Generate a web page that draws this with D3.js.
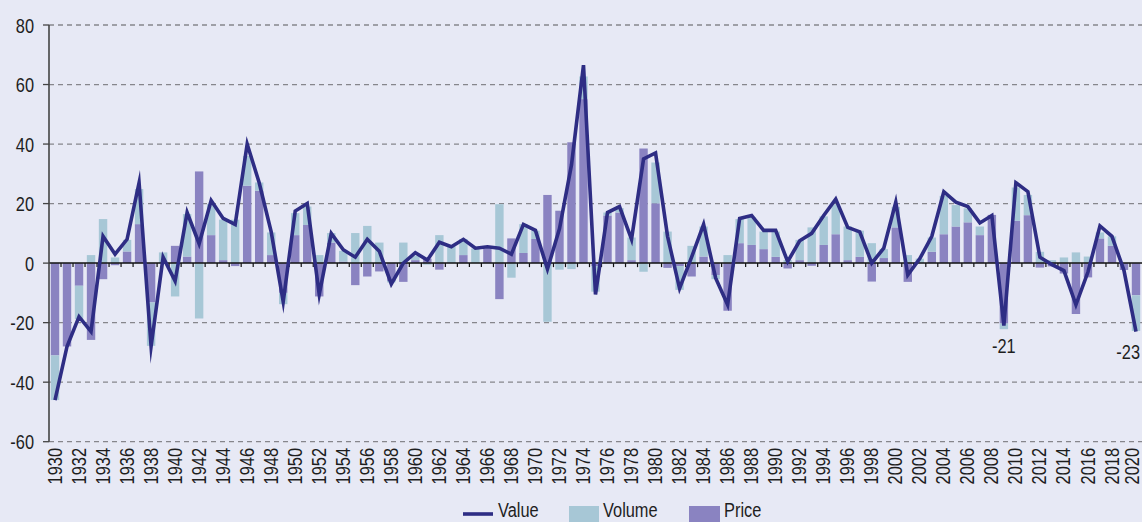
<!DOCTYPE html>
<html>
<head>
<meta charset="utf-8">
<script src="https://cdn.jsdelivr.net/npm/d3@7"></script>
<style>
  html, body { margin: 0; padding: 0; background: #e7e9f5; }
  svg { display: block; }
  text { font-family: "Liberation Sans", Arial, sans-serif; fill: #1e1e1e; }
</style>
</head>
<body>
<svg id="chart" width="1142" height="522"></svg>
<script>
const years = d3.range(1930, 2021);
const valueSeries = [
  -46, -28, -18, -23, 9, 3, 8, 27, -28, 2,
  -6, 17, 6.5, 21, 15, 13, 40, 27, 10.5, -13,
  17.5, 20, -10.5, 10, 4.5, 2, 8, 4, -7, 0,
  3.5, 1, 7, 5.5, 8, 5, 5.5, 5, 3, 13,
  11, -2, 11.5, 33, 66.5, -10.5, 17, 19, 8, 35,
  37, 9, -8.5, 2, 13, -5, -14, 15, 16, 11,
  11, 0.5, 7.5, 10, 16, 21.5, 12, 10.5, 0, 5,
  20.5, -4, 1.5, 9, 24, 20.5, 19, 13.5, 16, -21,
  27, 24, 2, -0.5, -2.5, -14, -3, 12.5, 9, -2.5,
  -23
];
const priceSeries = [
  -31, -28, -7.6, -25.8, -5.4, -0.7, 3.9, 13.1, -13.2, 0,
  5.8, 2.2, 30.8, 9.4, 1.0, -1.0, 26, 24.3, 2.7, -10,
  9.4, 12.8, -11.2, 6.9, 0.5, -7.4, -4.5, -2.8, -6, -6.3,
  1, 1.5, -2.2, 0, 2.7, 0, 5, -12.1, 8.3, 3.4,
  8.1, 22.9, 17.6, 40.6, 55.1, -1, 16, 17, 1.0, 38.5,
  20.1, -1.6, -1, -4.5, 2.2, -4.0, -16, 6.7, 6.1, 4.7,
  2.1, -1.8, 1.0, -0.9, 6.1, 9.7, 1.0, 2.1, -6.2, 1.7,
  12, -6.3, 0, 3.8, 9.7, 12.3, 13.7, 9.4, 16.2, -20.3,
  14.2, 16.1, -1.5, -1.1, -3.5, -17.1, -4.8, 8.3, 5.8, -2.3,
  -10.8
];
const volumeSeries = [
  -15, 0, -11.2, 2.7, 14.8, 1.9, 3.9, 11.8, -14.6, 3.6,
  -11.2, 14.3, -18.6, 10.4, 13.6, 14.6, 10, 2.8, 7.6, -3.8,
  7.4, 6.2, 2.7, 3.2, 3.6, 10.1, 12.5, 6.9, -0.5, 6.9,
  1.5, -0.5, 9.4, 5.6, 5.4, 4.9, 0.5, 19.8, -4.9, 9.7,
  2.8, -19.7, -2.2, -2.0, 7.6, -8.6, 1, 1.5, 7.6, -2.9,
  13.7, 10.6, -8, 5.8, 10.1, -1.4, 2.7, 8.1, 9.3, 5.9,
  8.5, 1.0, 6.8, 12, 9.6, 10.1, 11.3, 8.8, 6.7, 3.0,
  6.9, 2.7, 1.5, 4.8, 12.9, 7.2, 4.7, 2.9, 0, -1.9,
  11.2, 6.8, 3.8, 1.0, 1.9, 3.6, 2.2, 2.0, 3.2, 0,
  -12
];
const yTicks = [-60, -40, -20, 0, 20, 40, 60, 80];
const xTickYears = years.filter(y => y % 2 === 0);
const annotations = [{ year: 2009, text: "-21" }, { year: 2020, text: "-23" }];
const legendItems = ["Value", "Volume", "Price"];

const colors = { value: "#2e2d84", volume: "#a7c7d6", price: "#8a83c1" };
const SX = 0.78; // horizontal condensing of text

const svg = d3.select("#chart");
const mLeft = 49, mRight = 1142, mTop = 25, mBottom = 441.7;

const x = d3.scaleBand().domain(years).range([mLeft, mRight]).paddingInner(0.3).paddingOuter(0.15);
const y = d3.scaleLinear().domain([-60, 80]).range([mBottom, mTop]);

// gridlines
svg.append("g").selectAll("line").data(yTicks.filter(d => d !== 0)).join("line")
  .attr("x1", mLeft).attr("x2", mRight)
  .attr("y1", d => y(d)).attr("y2", d => y(d))
  .attr("stroke", "#86868c").attr("stroke-width", 1.3).attr("stroke-dasharray", "5,4");

// stacked bars (diverging)
const table = years.map((yr, i) => ({ year: yr, price: priceSeries[i], volume: volumeSeries[i] }));
const stack = d3.stack().keys(["price", "volume"]).offset(d3.stackOffsetDiverging);
const layers = stack(table);
svg.append("g").selectAll("g").data(layers).join("g")
  .attr("fill", d => colors[d.key])
  .selectAll("rect").data(d => d).join("rect")
  .attr("x", d => x(d.data.year))
  .attr("width", x.bandwidth())
  .attr("y", d => y(Math.max(d[0], d[1])))
  .attr("height", d => Math.abs(y(d[0]) - y(d[1])));

// zero line with ticks
svg.append("line").attr("x1", mLeft).attr("x2", mRight).attr("y1", y(0)).attr("y2", y(0))
  .attr("stroke", "#111").attr("stroke-width", 1.5);
svg.append("g").selectAll("line").data(d3.range(1, years.length)).join("line")
  .attr("x1", i => mLeft + i * (mRight - mLeft) / years.length)
  .attr("x2", i => mLeft + i * (mRight - mLeft) / years.length)
  .attr("y1", y(0)).attr("y2", y(0) + 4)
  .attr("stroke", "#111").attr("stroke-width", 1.2);

// y axis
const yAxis = svg.append("g");
yAxis.append("line").attr("x1", mLeft).attr("x2", mLeft).attr("y1", y(80)).attr("y2", y(-60))
  .attr("stroke", "#444").attr("stroke-width", 1.6);
yAxis.selectAll("line.tk").data(yTicks).join("line").attr("class", "tk")
  .attr("x1", mLeft - 6).attr("x2", mLeft).attr("y1", d => y(d)).attr("y2", d => y(d))
  .attr("stroke", "#444").attr("stroke-width", 1.3);
yAxis.selectAll("text").data(yTicks).join("text")
  .attr("transform", d => `translate(34,${y(d)}) scale(${SX},1)`)
  .attr("dy", "0.36em")
  .attr("text-anchor", "end").attr("font-size", 21)
  .text(d => d);

// x labels
svg.append("g").selectAll("text").data(xTickYears).join("text")
  .attr("transform", d => {
    const cx = Math.min(x(d) + x.bandwidth() / 2 - 1, 1131);
    return `translate(${cx},448) rotate(-90) scale(${SX},1)`;
  })
  .attr("dy", "0.36em").attr("text-anchor", "end").attr("font-size", 21)
  .text(d => d);

// value line
const line = d3.line().x((d, i) => x(years[i]) + x.bandwidth() / 2).y(d => y(d));
svg.append("path").datum(valueSeries).attr("d", line)
  .attr("fill", "none").attr("stroke", colors.value).attr("stroke-width", 3.6)
  .attr("stroke-linejoin", "miter").attr("stroke-miterlimit", 10);

// annotations
annotations.forEach(a => {
  const i = years.indexOf(a.year);
  const isLast = i === years.length - 1;
  const ax = isLast ? mRight - 2 : x(a.year) + x.bandwidth() / 2;
  const ay = y(valueSeries[i]) + 27;
  svg.append("text")
    .attr("transform", `translate(${ax},${ay}) scale(${SX},1)`)
    .attr("text-anchor", isLast ? "end" : "middle")
    .attr("font-size", 21).text(a.text);
});

// legend
const lg = svg.append("g");
lg.append("line").attr("x1", 463).attr("x2", 493).attr("y1", 514).attr("y2", 514)
  .attr("stroke", colors.value).attr("stroke-width", 3.6);
lg.append("rect").attr("x", 569).attr("y", 506).attr("width", 30).attr("height", 20).attr("fill", colors.volume);
lg.append("rect").attr("x", 689).attr("y", 506).attr("width", 31).attr("height", 20).attr("fill", colors.price);
const legendX = [498, 603, 724];
legendItems.forEach((t, i) => {
  lg.append("text").attr("transform", `translate(${legendX[i]},517) scale(${SX},1)`)
    .attr("font-size", 21).text(t);
});
</script>
</body>
</html>
